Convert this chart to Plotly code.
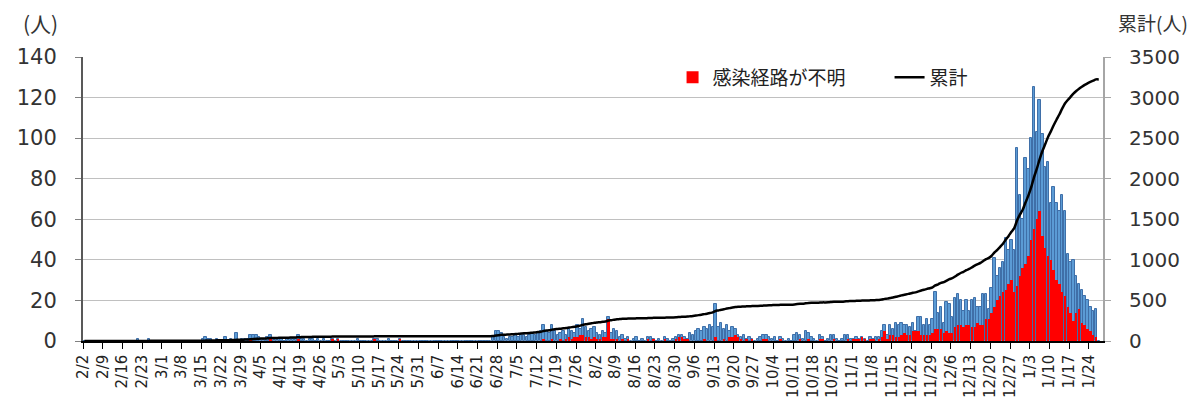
import pandas as pd
import plotly.graph_objects as go

# Daily new cases (total) and cases with unknown infection route, 2020-02-02 .. 2021-01-27
feb_total = [0, 0, 0, 0, 0, 0, 0, 0, 0, 0, 0, 0, 0, 0, 0, 0, 0, 0, 0, 1, 0, 0, 0, 1, 0, 0, 0, 0]
mar_total = [0, 0, 0, 0, 0, 0, 0, 0, 0, 0, 0, 0, 0, 0, 1, 2, 1, 1, 0, 1, 0, 0, 2, 0, 1, 0, 4, 0, 1, 1, 1]
apr_total = [3, 3, 3, 2, 1, 1, 2, 3, 1, 1, 1, 1, 0, 1, 1, 1, 1, 3, 1, 1, 0, 1, 1, 0, 1, 0, 1, 0, 0, 1]
may_total = [0, 1, 0, 0, 0, 0, 0, 0, 1, 0, 0, 0, 0, 0, 1, 1, 0, 0, 0, 1, 0, 0, 0, 1, 0, 0, 0, 0, 0, 0, 0]
jun_total = [0, 0, 0, 0, 0, 0, 0, 0, 0, 0, 0, 0, 0, 0, 0, 0, 0, 0, 0, 0, 0, 0, 0, 0, 0, 2, 5, 5, 4, 2]
jul_total = [1, 2, 2, 3, 2, 3, 3, 2, 3, 4, 3, 4, 5, 8, 5, 4, 8, 5, 3, 4, 5, 3, 6, 5, 4, 8, 6, 11, 7, 5, 6]
aug_total = [7, 4, 3, 5, 4, 12, 4, 6, 5, 2, 3, 1, 2, 0, 1, 2, 0, 1, 0, 2, 2, 1, 0, 1, 0, 2, 1, 0, 1, 2, 3]
sep_total = [3, 2, 1, 4, 3, 5, 6, 5, 7, 6, 8, 7, 18, 7, 9, 6, 8, 5, 7, 6, 3, 2, 3, 1, 2, 1, 0, 1, 2, 3]
oct_total = [3, 2, 1, 2, 0, 2, 1, 0, 1, 0, 3, 4, 3, 1, 5, 4, 2, 1, 0, 3, 2, 0, 1, 3, 3, 1, 0, 1, 3, 3, 1]
nov_total = [1, 2, 1, 2, 1, 0, 2, 1, 2, 2, 5, 8, 3, 8, 6, 9, 8, 9, 8, 8, 7, 9, 5, 12, 12, 8, 11, 8, 11, 24]
dec_total = [14, 17, 9, 19, 18, 12, 21, 23, 20, 15, 20, 15, 20, 21, 17, 17, 23, 23, 16, 26,
             41, 32, 36, 39, 51, 45, 50, 45, 95, 72, 60]
jan_total = [90, 85, 100, 125, 103, 119, 102, 86, 88, 68, 76, 68, 64, 72, 64, 43, 39, 40, 32, 28,
             25, 22, 20, 17, 15, 16, 0]

feb_unknown = [0, 0, 0, 0, 0, 0, 0, 0, 0, 0, 0, 0, 0, 0, 0, 0, 0, 0, 0, 0, 0, 0, 0, 0, 0, 0, 0, 0]
mar_unknown = [0, 0, 0, 0, 0, 0, 0, 0, 0, 0, 0, 0, 0, 0, 0, 0, 0, 0, 0, 0, 0, 0, 0, 0, 0, 0, 1, 0, 0, 0, 0]
apr_unknown = [1, 0, 0, 0, 0, 0, 0, 1, 0, 0, 0, 0, 0, 0, 0, 0, 0, 1, 0, 0, 0, 0, 0, 0, 0, 0, 0, 0, 0, 1]
may_unknown = [0, 1, 0, 0, 0, 0, 0, 0, 0, 0, 0, 0, 0, 0, 1, 0, 0, 0, 0, 0, 0, 0, 0, 1, 0, 0, 0, 0, 0, 0, 0]
jun_unknown = [0, 0, 0, 0, 0, 0, 0, 0, 0, 0, 0, 0, 0, 0, 0, 0, 0, 0, 0, 0, 0, 0, 0, 0, 0, 0, 0, 0, 0, 0]
jul_unknown = [0, 0, 0, 0, 0, 0, 0, 0, 0, 0, 0, 0, 0, 1, 0, 0, 1, 0, 0, 1, 0, 1, 2, 1, 2, 2, 3, 3, 2, 2, 1]
aug_unknown = [2, 1, 1, 2, 2, 11, 1, 1, 1, 0, 1, 0, 1, 0, 0, 0, 0, 0, 0, 1, 0, 1, 0, 0, 0, 1, 0, 0, 0, 1, 2]
sep_unknown = [2, 1, 1, 0, 0, 0, 0, 0, 1, 0, 0, 0, 2, 0, 0, 1, 0, 2, 2, 3, 2, 1, 0, 1, 0, 1, 0, 0, 0, 1]
oct_unknown = [1, 0, 0, 0, 0, 1, 0, 0, 0, 0, 0, 0, 1, 0, 0, 1, 0, 0, 0, 1, 1, 0, 0, 0, 1, 0, 0, 0, 0, 1, 0]
nov_unknown = [1, 1, 1, 2, 1, 0, 1, 1, 0, 1, 2, 5, 1, 3, 3, 2, 2, 3, 4, 3, 3, 5, 5, 5, 3, 3, 3, 3, 4, 6]
dec_unknown = [6, 6, 4, 5, 4, 4, 7, 8, 8, 7, 8, 8, 7, 7, 9, 8, 8, 11, 11, 14,
               17, 20, 22, 24, 25, 28, 30, 24, 27, 32, 36]
jan_unknown = [38, 42, 50, 55, 60, 64, 52, 46, 42, 40, 35, 30, 28, 24, 22, 17, 14, 10, 14, 16,
               9, 8, 6, 5, 3, 2, 0]

tick_labels = ["2/2", "2/9", "2/16", "2/23", "3/1", "3/8", "3/15", "3/22", "3/29", "4/5", "4/12",
               "4/19", "4/26", "5/3", "5/10", "5/17", "5/24", "5/31", "6/7", "6/14", "6/21", "6/28",
               "7/5", "7/12", "7/19", "7/26", "8/2", "8/9", "8/16", "8/23", "8/30", "9/6", "9/13",
               "9/20", "9/27", "10/4", "10/11", "10/18", "10/25", "11/1", "11/8", "11/15", "11/22",
               "11/29", "12/6", "12/13", "12/20", "12/27", "1/3", "1/10", "1/17", "1/24"]

total = (feb_total + mar_total + apr_total + may_total + jun_total + jul_total
         + aug_total + sep_total + oct_total + nov_total + dec_total + jan_total)
unknown = (feb_unknown + mar_unknown + apr_unknown + may_unknown + jun_unknown + jul_unknown
           + aug_unknown + sep_unknown + oct_unknown + nov_unknown + dec_unknown + jan_unknown)

dates = pd.date_range("2020-02-02", periods=len(total), freq="D")
cumulative = pd.Series(total).cumsum().tolist()
tick_dates = pd.date_range("2020-02-02", periods=len(tick_labels), freq="7D")

DAY_MS = 86400000
CJK_FONT = "Noto Sans CJK JP"
NUM_FONT = "DejaVu Sans"

fig = go.Figure()

fig.add_trace(go.Bar(
    x=dates, y=total, name="陽性者数",
    xperiod=DAY_MS, xperiodalignment="middle",
    width=DAY_MS * 0.86,
    marker=dict(color="#5b9bd5", line=dict(color="#3f6fa8", width=1)),
    showlegend=False, hoverinfo="skip",
))
fig.add_trace(go.Bar(
    x=dates, y=unknown, name="感染経路が不明",
    xperiod=DAY_MS, xperiodalignment="middle",
    width=DAY_MS * 0.86,
    marker=dict(color="#ff0000", line=dict(width=0)),
    hoverinfo="skip",
))
fig.add_trace(go.Scatter(
    x=dates, y=cumulative, name="累計", yaxis="y2",
    xperiod=DAY_MS, xperiodalignment="middle",
    mode="lines", line=dict(color="#000000", width=2.5, shape="spline", smoothing=0.6),
    hoverinfo="skip",
))

fig.update_layout(
    width=1192, height=398,
    margin=dict(l=83, r=89, t=57, b=57, autoexpand=False),
    paper_bgcolor="white", plot_bgcolor="white",
    barmode="overlay", bargap=0,
    font=dict(family=CJK_FONT, color="#333333"),
    showlegend=True,
    legend=dict(
        orientation="h", x=0.578, y=0.995, xanchor="left", yanchor="top",
        bgcolor="rgba(0,0,0,0)", font=dict(family=CJK_FONT, size=19, color="#222222"),
        itemwidth=30, tracegroupgap=0, entrywidth=172,
    ),
    xaxis=dict(
        type="date", automargin=False,
        range=["2020-02-02", "2021-01-29"],
        tickmode="array", tickvals=tick_dates, ticktext=tick_labels,
        tickangle=-90, tickfont=dict(family=NUM_FONT, size=15, color="#222222"),
        ticks="outside", ticklen=6, tickcolor="#000000", tickwidth=1,
        showline=True, linecolor="#000000", linewidth=1.5,
        showgrid=False, zeroline=False,
    ),
    yaxis=dict(
        range=[0, 140], dtick=20, automargin=False,
        tickfont=dict(family=NUM_FONT, size=21, color="#333333"),
        ticks="outside", ticklen=6, tickcolor="#808080",
        ticklabelstandoff=14,
        showline=True, linecolor="#595959", linewidth=2,
        showgrid=True, gridcolor="#c0c0c0", gridwidth=1,
        zeroline=False,
    ),
    yaxis2=dict(
        overlaying="y", side="right", automargin=False,
        range=[0, 3500], dtick=500,
        tickfont=dict(family=NUM_FONT, size=20, color="#333333"),
        ticks="outside", ticklen=6, tickcolor="#a6a6a6",
        ticklabelstandoff=14,
        showline=True, linecolor="#a6a6a6", linewidth=2,
        showgrid=False, zeroline=False,
    ),
    annotations=[
        dict(text="(人)", xref="paper", yref="paper", x=-0.042, y=1.12,
             xanchor="center", yanchor="middle", showarrow=False,
             font=dict(size=21, color="#333333")),
        dict(text="累計(人)", xref="paper", yref="paper", x=1.049, y=1.12,
             xanchor="center", yanchor="middle", showarrow=False,
             font=dict(size=19, color="#333333")),
    ],
)

fig.write_html("out.html")
